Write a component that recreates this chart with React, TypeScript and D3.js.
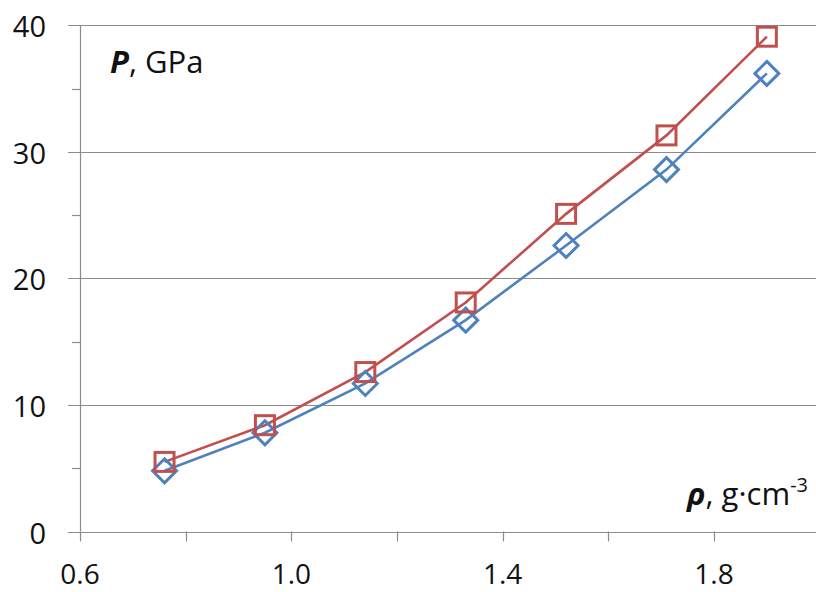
import React from "react";
import * as d3 from "d3";

const density = [0.76, 0.95, 1.14, 1.33, 1.52, 1.71, 1.9];
const pressureBlue = [4.8, 7.8, 11.7, 16.7, 22.6, 28.6, 36.2];
const pressureRed = [5.5, 8.4, 12.6, 18.1, 25.1, 31.3, 39.1];
const xTickLabels = [0.6, 1.0, 1.4, 1.8];
const xTicksAll = [0.6, 0.8, 1.0, 1.2, 1.4, 1.6, 1.8, 2.0];
const yMajor = [0, 10, 20, 30, 40];
const yMinor = [5, 15, 25, 35];

const W = 816;
const H = 592;
const FONT = "'Open Sans', sans-serif";
const BLUE = "#4F81BD";
const RED = "#C0504D";
const GRID = "#8c8c8c";

export default function App() {
  const x = d3.scaleLinear().domain([0.6, 2.0]).range([80, 819.7]);
  const y = d3.scaleLinear().domain([0, 40]).range([531.5, 25.3]);

  const line = d3
    .line<[number, number]>()
    .x((d) => x(d[0]))
    .y((d) => y(d[1]));

  const blueData: [number, number][] = density.map((d, i) => [d, pressureBlue[i]]);
  const redData: [number, number][] = density.map((d, i) => [d, pressureRed[i]]);

  const sq = 19;
  const dia = 12;

  return (
    <svg
      width={W}
      height={H}
      style={{ position: "absolute", left: 0, top: 0, background: "#fff" }}
      fontFamily={FONT}
    >
      <rect x={0} y={0} width={W} height={H} fill="#fff" />
      {yMajor.map((v) => (
        <line
          key={"g" + v}
          x1={68}
          x2={W}
          y1={Math.round(y(v)) + 0.5}
          y2={Math.round(y(v)) + 0.5}
          stroke={GRID}
          strokeWidth={1.2}
        />
      ))}
      {yMinor.map((v) => (
        <line
          key={"m" + v}
          x1={72}
          x2={80}
          y1={Math.round(y(v)) + 0.5}
          y2={Math.round(y(v)) + 0.5}
          stroke={GRID}
          strokeWidth={1.2}
        />
      ))}
      <line x1={80.5} x2={80.5} y1={y(40)} y2={y(0)} stroke={GRID} strokeWidth={1.2} />
      {xTicksAll.map((v) => (
        <line
          key={"xt" + v}
          x1={Math.round(x(v)) + 0.5}
          x2={Math.round(x(v)) + 0.5}
          y1={y(0)}
          y2={y(0) + 10}
          stroke={GRID}
          strokeWidth={1.2}
        />
      ))}
      {yMajor.map((v) => (
        <text
          key={"yl" + v}
          x={46}
          y={y(v) + 12}
          textAnchor="end"
          fontSize={29}
          fill="#111"
        >
          {v}
        </text>
      ))}
      {xTickLabels.map((v) => (
        <text
          key={"xl" + v}
          x={x(v)}
          y={584}
          textAnchor="middle"
          fontSize={28}
          fill="#111"
        >
          {v.toFixed(1)}
        </text>
      ))}
      <path d={line(blueData) || ""} fill="none" stroke={BLUE} strokeWidth={2.6} />
      <path d={line(redData) || ""} fill="none" stroke={RED} strokeWidth={2.6} />
      {blueData.map((d, i) => {
        const cx = x(d[0]);
        const cy = y(d[1]);
        return (
          <path
            key={"b" + i}
            d={`M${cx},${cy - dia}L${cx + dia},${cy}L${cx},${cy + dia}L${cx - dia},${cy}Z`}
            fill="none"
            stroke={BLUE}
            strokeWidth={3}
          />
        );
      })}
      {redData.map((d, i) => {
        const cx = x(d[0]);
        const cy = y(d[1]);
        return (
          <rect
            key={"r" + i}
            x={cx - sq / 2}
            y={cy - sq / 2}
            width={sq}
            height={sq}
            fill="none"
            stroke={RED}
            strokeWidth={3}
          />
        );
      })}
      <text x={110} y={73} fontSize={31} fill="#111">
        <tspan fontWeight="bold" fontStyle="italic">P</tspan>
        <tspan>, GPa</tspan>
      </text>
      <text x={808} y={505} fontSize={31} fill="#111" textAnchor="end">
        <tspan fontWeight="bold" fontStyle="italic">ρ</tspan>
        <tspan>, g·cm</tspan>
        <tspan fontSize={20} dy={-13}>-3</tspan>
      </text>
    </svg>
  );
}
